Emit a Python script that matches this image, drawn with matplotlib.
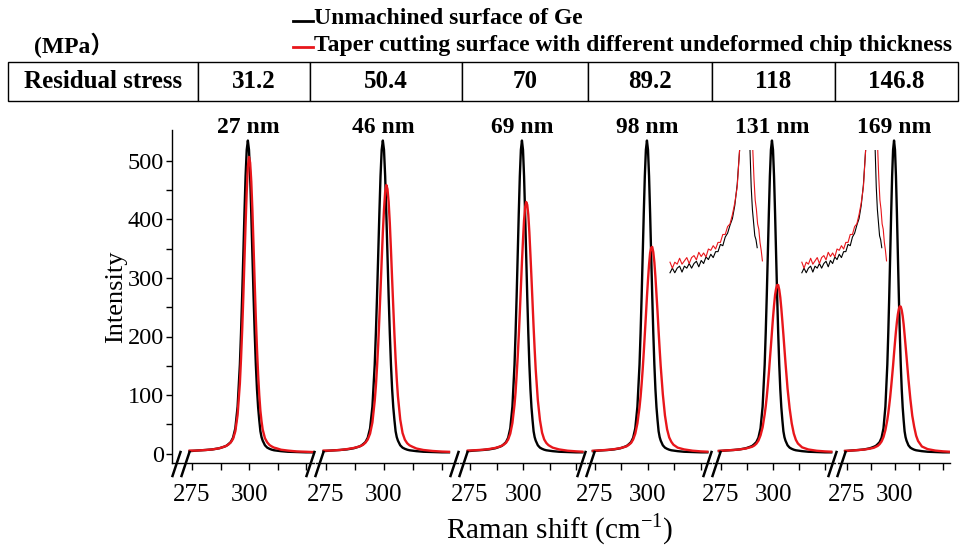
import matplotlib
matplotlib.use("Agg")
import matplotlib.pyplot as plt
from matplotlib.lines import Line2D
from matplotlib.transforms import blended_transform_factory

plt.rcParams["font.family"] = ["Liberation Serif", "Noto Sans CJK SC"]
plt.rcParams["mathtext.fontset"] = "custom"
plt.rcParams["mathtext.rm"] = "Liberation Serif"

# ---- data ----
raman_shift = [274, 277, 281, 284, 287, 289, 290, 291, 292, 293, 294, 295,
               296, 296.5, 297, 297.5, 298, 298.5, 299, 299.5, 300, 300.5, 301,
               301.5, 302, 302.5, 303, 303.5, 304, 304.5, 305, 305.5, 306,
               307, 308, 309, 310, 311, 312, 314, 317, 321, 325, 328]

unmachined = [4, 5, 6, 7, 9, 11.5, 13, 16, 19.5, 27, 43, 80,
              152, 206, 269, 339, 410, 474, 519, 535, 519, 474, 410,
              339, 269, 206, 152, 110, 79, 57, 38, 28, 22,
              14, 10, 8, 6.5, 5.5, 5, 4, 3, 2.5, 2, 2]

taper_27nm = [5, 5, 6, 7, 9, 11.5, 13, 15.4, 19, 25, 38, 66,
              120, 162, 210, 267, 330, 392, 448, 490, 507, 497, 465,
              415, 354, 291, 231, 179, 135, 100, 73, 55, 41,
              26, 19, 14.5, 12, 10, 9, 6.5, 5, 3.5, 3, 2.5]
taper_46nm = [5, 5, 6, 7.5, 9.5, 11.5, 13, 15, 18.5, 24, 34, 53,
              90, 115, 148, 186, 232, 279, 330, 378, 417, 447, 459,
              452, 430, 394, 348, 298, 250, 203, 162, 127, 98,
              58, 35, 23.5, 17.5, 14, 12, 8.5, 6, 4.3, 3.3, 2.9]
taper_69nm = [5, 5.5, 6.4, 7.7, 9.6, 11.8, 13.3, 15.4, 18.4, 24, 34, 52,
              83.5, 105, 134, 165, 201, 241, 284, 327, 365, 399, 421,
              430, 425, 408, 378, 340, 300, 258, 216, 178, 143,
              91, 57, 35.5, 24, 18, 14.3, 10, 7, 4.8, 3.7, 3.1]
taper_98nm = [4.7, 5.3, 6.2, 7.4, 9.2, 11.3, 12.5, 15, 18, 24, 34, 51.5,
              79, 97, 119, 144, 173, 204, 235, 268, 297, 323, 343,
              352, 353, 344, 327, 302, 272, 242, 209, 178, 149,
              101, 65, 41.5, 27.5, 20, 15, 10, 7, 4.8, 3.6, 3.1]
taper_131nm = [4.6, 5.2, 6, 7, 8.6, 10.5, 11.6, 13.6, 16.8, 22, 31, 44.6,
               67, 80.5, 97, 116, 137, 161, 184, 208, 232, 253, 271,
               282, 288, 288, 280, 267, 248, 226, 203, 179, 155,
               111, 77, 51.5, 34, 23.3, 17, 10.5, 6.9, 4.7, 3.6, 3.1]
taper_169nm = [4.6, 5, 5.9, 6.8, 8.3, 9.8, 11.4, 13, 16, 20.5, 28, 40,
               57.5, 69, 82.5, 97, 114, 132, 150.5, 171, 190.5, 209, 225,
               238, 247, 251.5, 251, 245, 235, 221, 203, 184.5, 165.5,
               127, 93, 64.5, 45.5, 30.5, 21.5, 12, 7.5, 5, 3.7, 3.1]

thickness_labels = ["27 nm", "46 nm", "69 nm", "98 nm", "131 nm", "169 nm"]
residual_stress = ["31.2", "50.4", "70", "89.2", "118", "146.8"]

# zoomed low-intensity view of the peak foot (insets over panels 5 and 6)
inset_left_x = [282.5, 283.1, 283.7, 284.3, 284.9, 285.5, 286.1, 286.7, 287.3,
                287.9, 288.5, 289.1, 289.7, 290.3, 290.9, 291.5, 292.1, 292.7,
                293.3, 293.9, 294.5, 295.1, 295.7, 296.3, 296.9, 297.5, 298.1,
                298.7, 299.3, 299.9]
inset_left_red = [15, 10.5, 15, 13.5, 18, 13.5, 16, 18.5, 14, 18.5, 20, 16.8,
                  22.5, 19.3, 22, 19, 25, 24, 27.5, 25, 30, 30, 36, 36, 42, 44,
                  51, 60, 72, 100]
inset_left_black = [7, 10.5, 7, 10.5, 12, 7.5, 12, 10.5, 14, 10.5, 14, 15.7,
                    11.5, 16.3, 14, 19, 17, 21, 18.5, 23, 23, 28.5, 27.5, 34,
                    37, 43, 48, 58, 74, 100]
inset_right_x_black = [302.5, 302.8, 303.1, 303.4, 303.7, 304.0, 304.3]
inset_right_black = [100, 72, 55, 45, 35, 32, 26]
inset_right_x_red = [303.2, 303.5, 303.8, 304.1, 304.4, 304.7, 305.0, 305.3, 305.6]
inset_right_red = [100, 78, 62, 55, 44, 40, 30, 24, 16]

RED = "#e8161b"
W, H = 966, 546


def fx(px):
    return px / W


def fy(py):
    return 1 - py / H


fig = plt.figure(figsize=(W / 100, H / 100), dpi=100)

tapers = [taper_27nm, taper_46nm, taper_69nm, taper_98nm, taper_131nm, taper_169nm]

# panel pixel layout: left, right, position of 275 tick, position of 300 tick
panels = [(172, 314, 192, 249), (316, 458, 326, 384), (460, 585, 470, 523),
          (587, 711, 595, 648), (713, 835, 721, 773), (838, 950, 847, 895)]
ax_top, ax_bot = 130, 463
y0_px, y500_px = 453.5, 161
ys = (y0_px - y500_px) / 500
ylim = (-(ax_bot - y0_px) / ys, (y0_px - ax_top) / ys)

for i, (left, right, p275, p300) in enumerate(panels):
    s = (p300 - p275) / 25
    ax = fig.add_axes([fx(left), fy(ax_bot), (right - left) / W, (ax_bot - ax_top) / H])
    ax.set_facecolor("none")
    ax.plot(raman_shift, unmachined, color="black", lw=1.7)
    ax.plot(raman_shift, tapers[i], color=RED, lw=1.7)
    ax.set_xlim(275 - (p275 - left) / s, 300 + (right - p300) / s)
    ax.set_ylim(*ylim)
    ax.spines["top"].set_visible(False)
    ax.spines["right"].set_visible(False)
    ax.spines["bottom"].set_linewidth(1.0)
    ax.set_xticks([275, 287.5, 300, 312.5, 325])
    ax.set_xticklabels(["275", "", "300", "", ""])
    ax.tick_params(axis="x", direction="out", length=5, width=1, labelsize=18, pad=10)
    if i == 0:
        ax.spines["left"].set_linewidth(1.0)
        ax.set_yticks([0, 100, 200, 300, 400, 500])
        ax.set_yticks([50, 150, 250, 350, 450], minor=True)
        ax.tick_params(axis="y", which="both", direction="out", length=4, width=1,
                       labelsize=17.5, pad=2)
        ax.set_ylabel("Intensity", fontsize=19, labelpad=0)
    else:
        ax.spines["left"].set_visible(False)
        ax.set_yticks([])
    tr = blended_transform_factory(ax.transData, fig.transFigure)
    ax.text(299.5, fy(127), thickness_labels[i], transform=tr, ha="center",
            va="center", fontsize=17, fontweight="bold")

# axis breaks
for bx in [181, 315, 459, 586, 712, 837]:
    for off in (-4.5, 4.5):
        fig.add_artist(Line2D([fx(bx + off - 4), fx(bx + off + 4)], [fy(476), fy(452)],
                              color="black", lw=1.8))

fig.text(fx(560), fy(529), r"Raman shift (cm$^{\mathregular{-1}}$)", ha="center",
         va="center", fontsize=21)

# insets
for left, right in [(668, 764), (800, 888)]:
    ins = fig.add_axes([fx(left), fy(282), (right - left) / W, 132 / H])
    ins.set_facecolor("none")
    ins.axis("off")
    ins.plot(inset_left_x, inset_left_black, color="black", lw=0.8)
    ins.plot(inset_left_x, inset_left_red, color=RED, lw=0.8)
    ins.plot(inset_right_x_black, inset_right_black, color="black", lw=0.8)
    ins.plot(inset_right_x_red, inset_right_red, color=RED, lw=0.8)
    ins.set_xlim(282, 306)
    ins.set_ylim(0, 100)

# legend
fig.add_artist(Line2D([fx(293), fx(313)], [fy(21), fy(21)], color="black", lw=2))
fig.add_artist(Line2D([fx(293), fx(313)], [fy(47), fy(47)], color=RED, lw=2))
fig.text(fx(314), fy(18), "Unmachined surface of Ge", ha="left", va="center",
         fontsize=17, fontweight="bold")
fig.text(fx(314), fy(45), "Taper cutting surface with different undeformed chip thickness",
         ha="left", va="center", fontsize=17, fontweight="bold")
fig.text(fx(74), fy(45), "(MPa）", ha="center", va="center", fontsize=17,
         fontweight="bold")

# residual stress table
col_edges = [8, 198, 310, 462, 588, 712, 835, 958]
tab_ax = fig.add_axes([fx(8), fy(101), (958 - 8) / W, 39 / H])
tab_ax.axis("off")
widths = [(b - a) / (958 - 8) for a, b in zip(col_edges[:-1], col_edges[1:])]
table = tab_ax.table(cellText=[["Residual stress"] + residual_stress],
                     colWidths=widths, cellLoc="center", bbox=[0, 0, 1, 1])
table.auto_set_font_size(False)
table.set_fontsize(18)
for cell in table.get_celld().values():
    cell.get_text().set_fontweight("bold")
    cell.set_linewidth(1.0)

fig.savefig("out.png", dpi=100)
